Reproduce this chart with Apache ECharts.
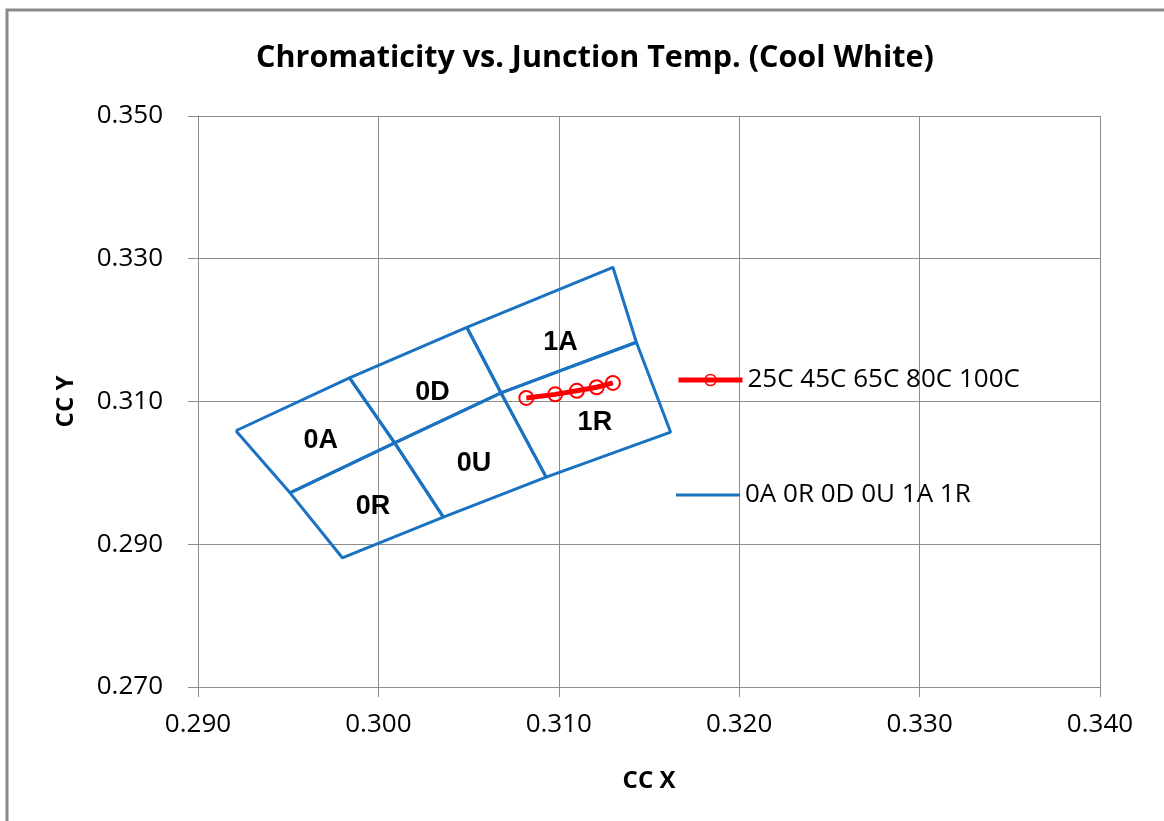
<!DOCTYPE html>
<html>
<head>
<meta charset="utf-8">
<script src="https://cdn.jsdelivr.net/npm/echarts@6/dist/echarts.min.js"></script>
<style>
html,body{margin:0;padding:0;background:#fff;}
#c{width:1164px;height:821px;}
</style>
</head>
<body>
<div id="c"></div>
<script>
// Tick labels
const xTicks = [0.290, 0.300, 0.310, 0.320, 0.330, 0.340];
const yTicks = [0.270, 0.290, 0.310, 0.330, 0.350];

// Temperature series (25C 45C 65C 80C 100C)
const tempNames = ['25C', '45C', '65C', '80C', '100C'];
const tempX = [0.3082, 0.3098, 0.3110, 0.3121, 0.3130];
const tempY = [0.3105, 0.3110, 0.3115, 0.3120, 0.3126];

// Bin quadrilaterals (closed)
const bin0A = [[0.2921,0.3059],[0.2984,0.3133],[0.3009,0.3042],[0.2951,0.2972],[0.2921,0.3059]];
const bin0R = [[0.2951,0.2972],[0.3009,0.3042],[0.3036,0.2938],[0.2980,0.2881],[0.2951,0.2972]];
const bin0D = [[0.2984,0.3133],[0.3049,0.3204],[0.3068,0.3112],[0.3009,0.3042],[0.2984,0.3133]];
const bin0U = [[0.3009,0.3042],[0.3068,0.3112],[0.3093,0.2994],[0.3036,0.2938],[0.3009,0.3042]];
const bin1A = [[0.3049,0.3204],[0.3130,0.3288],[0.3143,0.3183],[0.3068,0.3112],[0.3049,0.3204]];
const bin1R = [[0.3068,0.3112],[0.3143,0.3183],[0.3162,0.3057],[0.3093,0.2994],[0.3068,0.3112]];

// Bin labels
const binNames = ['0A', '0R', '0D', '0U', '1A', '1R'];
const binLabelX = [0.2968, 0.2997, 0.3030, 0.3053, 0.3101, 0.3120];
const binLabelY = [0.3045, 0.2953, 0.3113, 0.3013, 0.3182, 0.3071];

const binSeriesName = '0A 0R 0D 0U 1A 1R';
const tempSeriesName = '25C 45C 65C 80C 100C';
const BLUE = '#1A73C2';
const RED = '#FF0000';
const GRID = '#8C8C8C';

const bins = [bin0A, bin0R, bin0D, bin0U, bin1A, bin1R];
const binSeries = bins.map(b => ({
  name: binSeriesName,
  type: 'line',
  data: b,
  symbol: 'none',
  showSymbol: false,
  lineStyle: { color: BLUE, width: 3 },
  itemStyle: { color: BLUE },
  z: 2,
  animation: false
}));

const legendText = { fontFamily: 'Open Sans', fontSize: 26, color: '#000' };

const chart = echarts.init(document.getElementById('c'), null, { renderer: 'canvas' });
chart.setOption({
  backgroundColor: '#fff',
  animation: false,
  title: {
    text: 'Chromaticity vs. Junction Temp. (Cool White)',
    left: 590, textAlign: 'center',
    top: 38,
    textStyle: { fontFamily: 'Open Sans', fontWeight: 'bold', fontSize: 30.5, color: '#000' }
  },
  graphic: [{
    type: 'rect', shape: { x: 7, y: 10, width: 1300, height: 1000 },
    style: { fill: 'none', stroke: '#8A8A8A', lineWidth: 3 }, silent: true, z: -10
  }],
  legend: [{
    data: [{ name: tempSeriesName, lineStyle: { width: 5, color: RED },
      itemStyle: { color: 'rgba(255,255,255,0)', borderColor: RED, borderWidth: 1.5 } }],
    orient: 'vertical', left: 676, top: 367, padding: 0,
    itemWidth: 64, itemHeight: 14, itemGap: 4,
    textStyle: legendText
  }, {
    data: [{ name: binSeriesName, icon: 'rect', itemStyle: { color: BLUE } }],
    orient: 'vertical', left: 676, top: 482, padding: 0,
    itemWidth: 64, itemHeight: 3, itemGap: 4,
    textStyle: legendText
  }],
  grid: { left: 198, top: 116, right: 64, bottom: 134, containLabel: false, show: false },
  xAxis: {
    type: 'value', min: xTicks[0], max: xTicks[xTicks.length - 1], interval: 0.01,
    name: 'CC X', nameLocation: 'middle', nameGap: 82,
    nameTextStyle: { fontFamily: 'Open Sans', fontWeight: 'bold', fontSize: 24, color: '#000' },
    axisLine: { show: true, lineStyle: { color: GRID, width: 1 } },
    axisTick: { show: true, inside: false, length: 10, lineStyle: { color: GRID } },
    splitLine: { show: true, lineStyle: { color: GRID, width: 1 } },
    axisLabel: { margin: 25, fontFamily: 'Open Sans', fontSize: 26, color: '#000',
      formatter: v => v.toFixed(3) }
  },
  yAxis: {
    type: 'value', min: yTicks[0], max: yTicks[yTicks.length - 1], interval: 0.02,
    name: 'CC Y', nameLocation: 'middle', nameGap: 120, nameRotate: 90,
    nameTextStyle: { fontFamily: 'Open Sans', fontWeight: 'bold', fontSize: 24, color: '#000' },
    axisLine: { show: true, lineStyle: { color: GRID, width: 1 } },
    axisTick: { show: true, inside: false, length: 10, lineStyle: { color: GRID } },
    splitLine: { show: true, lineStyle: { color: GRID, width: 1 } },
    axisLabel: { margin: 35, fontFamily: 'Open Sans', fontSize: 26, color: '#000',
      formatter: v => v.toFixed(3) }
  },
  series: binSeries.concat([
    {
      name: 'binLabels',
      type: 'scatter',
      data: binNames.map((n, i) => ({ name: n, value: [binLabelX[i], binLabelY[i]] })),
      symbolSize: 0,
      itemStyle: { color: '#000', opacity: 1 },
      label: { show: true, position: 'inside', formatter: p => p.name,
        fontFamily: 'Liberation Sans', fontWeight: 'bold', fontSize: 27, color: '#000',
        opacity: 1, textBorderWidth: 0 },
      emphasis: { disabled: true },
      silent: true, z: 3
    },
    {
      name: tempSeriesName,
      type: 'line',
      data: tempX.map((x, i) => ({ name: tempNames[i], value: [x, tempY[i]] })),
      symbol: 'circle', symbolSize: 14, showSymbol: true,
      lineStyle: { color: RED, width: 5 },
      itemStyle: { color: 'rgba(255,255,255,0)', borderColor: RED, borderWidth: 2 },
      z: 5
    }
  ])
});
</script>
</body>
</html>
